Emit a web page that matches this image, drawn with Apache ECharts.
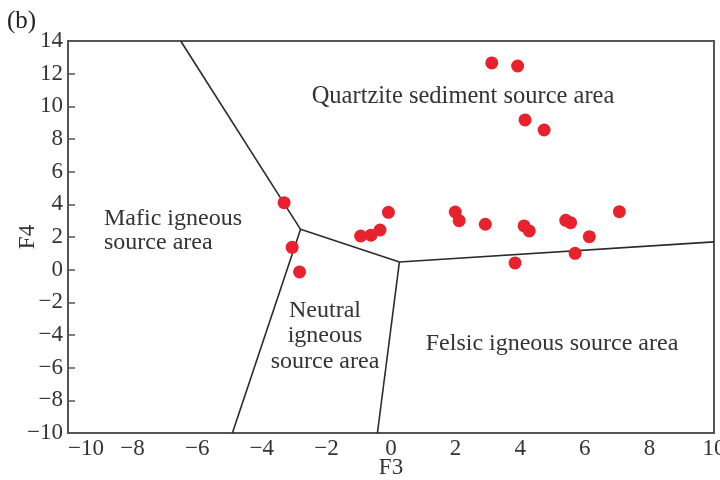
<!DOCTYPE html>
<html><head><meta charset="utf-8">
<script src="https://cdn.jsdelivr.net/npm/echarts@6/dist/echarts.min.js"></script>
<style>html,body{margin:0;padding:0;background:#fff}#c{width:720px;height:480px}</style>
</head><body><div id="c"></div>
<script>
// Sample points (F3, F4)
const f3 = [-3.31, -3.06, -2.83, -0.94, -0.62, -0.34, -0.08, 1.99, 2.11, 2.92, 3.12, 3.92, 4.15, 4.74, 4.12, 4.28, 3.84, 5.41, 5.56, 5.70, 6.14, 7.07];
const f4 = [4.10, 1.37, -0.14, 2.06, 2.11, 2.43, 3.51, 3.53, 3.00, 2.78, 12.66, 12.47, 9.17, 8.55, 2.68, 2.37, 0.41, 3.02, 2.88, 1.00, 2.02, 3.55];
// Discriminant field boundaries
const boundTopX = [-6.51, -2.80];   const boundTopY = [14, 2.47];
const boundMidX = [-2.80, 0.26];    const boundMidY = [2.47, 0.47];
const boundLeftX = [-2.80, -4.91];  const boundLeftY = [2.47, -10];
const boundCenX = [0.26, -0.42];    const boundCenY = [0.47, -10];
const boundRightX = [0.26, 10];     const boundRightY = [0.47, 1.70];
const xTicks = [-10, -8, -6, -4, -2, 0, 2, 4, 6, 8, 10];
const yTicks = [-10, -8, -6, -4, -2, 0, 2, 4, 6, 8, 10, 12, 14];

const FONT = "'Liberation Serif','Times New Roman',serif";
const TXT = '#333';
const zip = (a, b) => a.map((v, i) => [v, b[i]]);
const minus = v => String(v).replace('-', '\u2212');

const lineSeries = (xs, ys) => ({
  type: 'line', data: zip(xs, ys), symbol: 'none', silent: true,
  lineStyle: {color: '#2b2b2b', width: 1.6}, z: 2
});

const chart = echarts.init(document.getElementById('c'));
chart.setOption({
  animation: false,
  grid: {left: 68, right: 6, top: 41, bottom: 47, show: true, borderColor: '#555', borderWidth: 2,
         containLabel: false, outerBoundsMode: 'none'},
  xAxis: {
    type: 'value', min: xTicks[0], max: xTicks[xTicks.length - 1], interval: 2,
    name: 'F3', nameLocation: 'middle', nameGap: 23, nameMoveOverlap: false,
    nameTextStyle: {fontFamily: FONT, fontSize: 23, color: TXT},
    axisLine: {show: true, onZero: false, lineStyle: {color: '#555', width: 2}},
    axisTick: {show: false}, splitLine: {show: false},
    axisLabel: {fontFamily: FONT, fontSize: 23, color: TXT, margin: 4, formatter: minus,
                showMinLabel: true, showMaxLabel: true, alignMinLabel: 'left', hideOverlap: false}
  },
  yAxis: {
    type: 'value', min: yTicks[0], max: yTicks[yTicks.length - 1], interval: 2,
    name: 'F4', nameLocation: 'middle', nameGap: 29, nameMoveOverlap: false,
    nameTextStyle: {fontFamily: FONT, fontSize: 23, color: TXT},
    axisLine: {show: true, onZero: false, lineStyle: {color: '#555', width: 2}},
    axisTick: {show: true, inside: true, length: 7, lineStyle: {color: '#555', width: 1.5}},
    splitLine: {show: false},
    axisLabel: {fontFamily: FONT, fontSize: 23, color: TXT, margin: 5, formatter: minus,
                showMinLabel: true, showMaxLabel: true, hideOverlap: false}
  },
  series: [
    lineSeries(boundTopX, boundTopY),
    lineSeries(boundMidX, boundMidY),
    lineSeries(boundLeftX, boundLeftY),
    lineSeries(boundCenX, boundCenY),
    lineSeries(boundRightX, boundRightY),
    {type: 'scatter', data: zip(f3, f4), symbol: 'circle', symbolSize: 13,
     itemStyle: {color: '#e8222d', opacity: 1}, z: 5}
  ],
  graphic: [
    {type: 'text', left: 7, top: 9, style: {text: '(b)', font: '25px ' + FONT, fill: '#222'}},
    {type: 'text', x: 463, y: 97, style: {text: 'Quartzite sediment source area', font: '24.5px ' + FONT, fill: TXT, textAlign: 'center', textVerticalAlign: 'middle'}},
    {type: 'text', x: 104, y: 231, style: {text: 'Mafic igneous\nsource area', font: '24px ' + FONT, fill: TXT, textAlign: 'left', textVerticalAlign: 'middle', lineHeight: 24}},
    {type: 'text', x: 325, y: 336, style: {text: 'Neutral\nigneous\nsource area', font: '24px ' + FONT, fill: TXT, textAlign: 'center', textVerticalAlign: 'middle', lineHeight: 25.5}},
    {type: 'text', x: 552, y: 344, style: {text: 'Felsic igneous source area', font: '24px ' + FONT, fill: TXT, textAlign: 'center', textVerticalAlign: 'middle'}}
  ]
});
</script></body></html>
